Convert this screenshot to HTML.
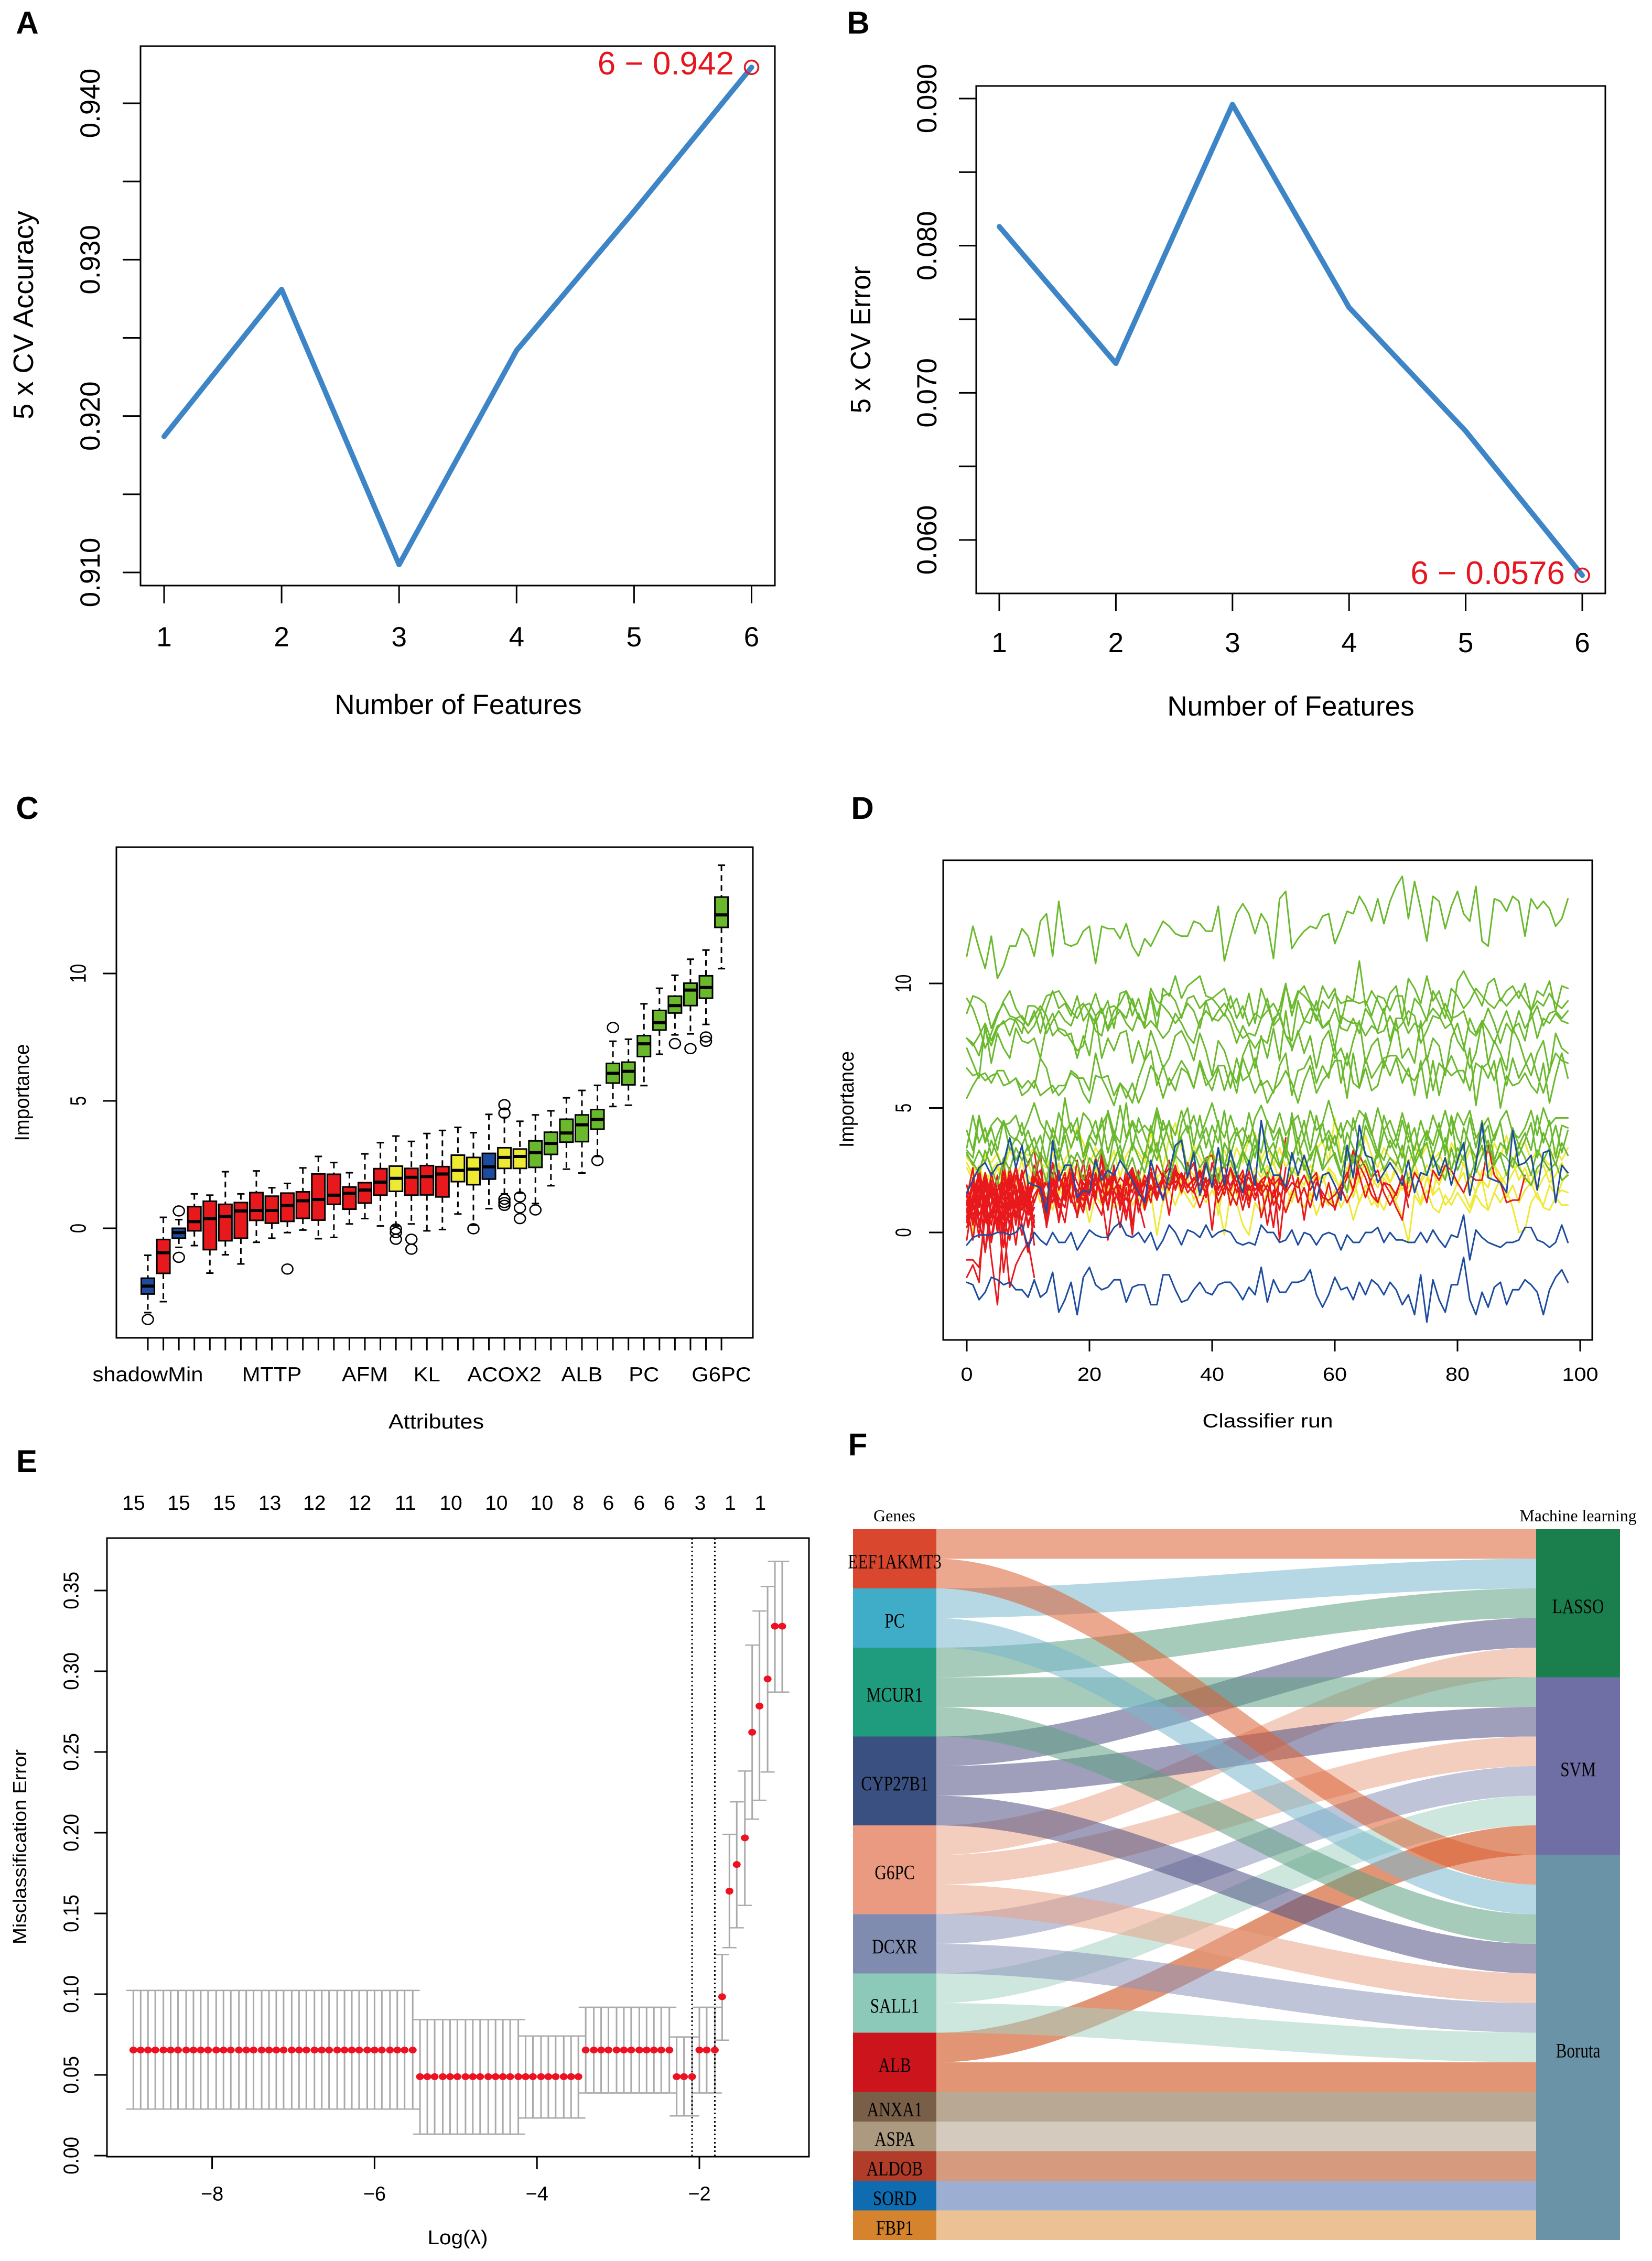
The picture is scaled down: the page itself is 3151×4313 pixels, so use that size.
<!DOCTYPE html>
<html lang="en">
<head>
<meta charset="utf-8">
<title>Feature selection multi-panel figure</title>
<style>
html,body{margin:0;padding:0;background:#fff;}
svg{display:block;}
text{font-family:"Liberation Sans",sans-serif;fill:#000;}
.serif{font-family:"Liberation Serif",serif;}
.letter{font-size:60px;font-weight:bold;text-anchor:middle;}
</style>
</head>
<body>
<svg id="fig" width="3151" height="4313" viewBox="0 0 3151 4313" xmlns="http://www.w3.org/2000/svg">
  <rect x="0" y="0" width="3151" height="4313" fill="#fff"/>

  <g id="panelA">
    <text class="letter" x="52" y="64">A</text>
    <rect x="268" y="88" width="1210" height="1029" fill="none" stroke="#000" stroke-width="3"/>
    <text x="874" y="1362" font-size="53" text-anchor="middle">Number of Features</text>
    <text transform="translate(63,601) rotate(-90)" font-size="54" text-anchor="middle" textLength="398" lengthAdjust="spacingAndGlyphs">5 x CV Accuracy</text>
    <text x="1400" y="142" font-size="62" text-anchor="end" style="fill:#e4161f">6 − 0.942</text>
  </g>

  <g id="panelB">
    <text class="letter" x="1637" y="64">B</text>
    <rect x="1862" y="164" width="1200" height="968" fill="none" stroke="#000" stroke-width="3"/>
    <text x="2462" y="1365" font-size="53" text-anchor="middle">Number of Features</text>
    <text transform="translate(1660,648) rotate(-90)" font-size="54" text-anchor="middle" textLength="281" lengthAdjust="spacingAndGlyphs">5 x CV Error</text>
    <text x="2985" y="1114" font-size="62" text-anchor="end" style="fill:#e4161f">6 − 0.0576</text>
  </g>

  <g id="panelC">
    <text class="letter" x="52" y="1562">C</text>
    <rect x="222" y="1616" width="1214" height="936" fill="none" stroke="#000" stroke-width="3"/>
    <text x="832" y="2725" font-size="39" text-anchor="middle" textLength="182" lengthAdjust="spacingAndGlyphs">Attributes</text>
    <text transform="translate(55,2084) rotate(-90)" font-size="39" text-anchor="middle" textLength="185" lengthAdjust="spacingAndGlyphs">Importance</text>
  </g>

  <g id="panelD">
    <text class="letter" x="1645" y="1562">D</text>
    <rect x="1799" y="1641" width="1238" height="915" fill="none" stroke="#000" stroke-width="3"/>
    <text x="2418" y="2723" font-size="37" text-anchor="middle" textLength="249" lengthAdjust="spacingAndGlyphs">Classifier run</text>
    <text transform="translate(1628,2097) rotate(-90)" font-size="39" text-anchor="middle" textLength="184" lengthAdjust="spacingAndGlyphs">Importance</text>
  </g>

  <g id="panelE">
    <text class="letter" x="51" y="2808">E</text>
    <rect x="204" y="2934" width="1339" height="1180" fill="none" stroke="#000" stroke-width="3"/>
    <text x="873" y="4281" font-size="38" text-anchor="middle" textLength="115" lengthAdjust="spacingAndGlyphs">Log(λ)</text>
    <text transform="translate(50,3523) rotate(-90)" font-size="36" text-anchor="middle" textLength="372" lengthAdjust="spacingAndGlyphs">Misclassification Error</text>
  </g>

  <g id="panelF">
    <text class="letter" x="1636" y="2776">F</text>
    <text class="serif" x="1706" y="2902" font-size="32" text-anchor="middle" textLength="80" lengthAdjust="spacingAndGlyphs">Genes</text>
    <text class="serif" x="3010" y="2902" font-size="32" text-anchor="middle" textLength="223" lengthAdjust="spacingAndGlyphs">Machine learning</text>
  </g>
</svg>

<script>
/* ---------- Panel A / B data ---------- */
const featureCounts = [1, 2, 3, 4, 5, 6];
const accuracyValues = [0.9187, 0.9281, 0.9105, 0.9242, 0.9331, 0.9423];
const errorValues = [0.0813, 0.0720, 0.0896, 0.0758, 0.0674, 0.0576];
const accuracyTicks = [0.910, 0.915, 0.920, 0.925, 0.930, 0.935, 0.940];
const accuracyTickLabels = ['0.910', '', '0.920', '', '0.930', '', '0.940'];
const errorTicks = [0.060, 0.065, 0.070, 0.075, 0.080, 0.085, 0.090];
const errorTickLabels = ['0.060', '', '0.070', '', '0.080', '', '0.090'];

/* ---------- Panel C data (one entry per attribute) ---------- */
const boxCategories = ['shadow','rej','shadow','rej','rej','rej','rej','rej','rej','rej','rej','rej','rej','rej','rej','rej','tent','rej','rej','rej','tent','tent','shadow','tent','tent','conf','conf','conf','conf','conf','conf','conf','conf','conf','conf','conf','conf','conf'];
const boxHigh = [-1.06,0.43,0.34,1.35,1.30,2.22,1.35,2.25,1.59,1.76,2.37,2.82,2.58,2.18,2.92,3.36,3.62,3.41,3.72,3.84,3.96,3.75,4.47,4.35,4.20,4.45,4.61,5.12,5.41,5.61,7.34,7.42,8.81,9.42,9.93,10.56,10.92,14.25];
const boxQ3 = [-1.96,-0.44,0.00,0.85,1.06,0.94,1.01,1.40,1.26,1.38,1.43,2.13,2.12,1.62,1.79,2.34,2.44,2.35,2.46,2.42,2.87,2.78,2.94,3.16,3.11,3.43,3.77,4.28,4.45,4.66,6.47,6.52,7.56,8.55,9.11,9.62,9.91,13.00];
const boxMedian = [-2.27,-0.96,-0.17,0.26,0.38,0.46,0.68,0.70,0.70,0.89,1.08,1.13,1.30,1.37,1.50,1.81,1.96,2.00,2.03,2.13,2.27,2.32,2.41,2.78,2.82,2.97,3.33,3.74,4.06,4.27,6.08,6.16,7.24,8.07,8.74,9.35,9.45,12.30];
const boxQ1 = [-2.58,-1.77,-0.39,-0.10,-0.84,-0.49,-0.39,0.31,0.20,0.27,0.39,0.32,0.94,0.75,0.99,1.30,1.45,1.30,1.31,1.23,1.83,1.71,1.93,2.35,2.35,2.39,2.90,3.38,3.40,3.89,5.70,5.63,6.74,7.78,8.45,8.74,9.03,11.81];
const boxLow = [-3.31,-2.88,-0.75,-0.68,-1.76,-1.04,-1.40,-0.55,-0.39,-0.17,-0.07,-0.41,-0.36,0.17,0.38,0.09,0.09,0.17,-0.10,-0.05,0.56,0.12,0.77,1.35,1.38,0.97,1.67,2.32,2.17,2.82,4.78,4.83,5.60,6.83,7.59,7.63,8.00,10.19];
const boxOutliers = [[-3.58],[],[0.68,-1.14],[],[],[],[],[],[],[-1.60],[],[],[],[],[],[],[-0.03,-0.17,-0.43],[-0.43,-0.82],[],[],[],[-0.02],[],[4.85,4.52,1.14,1.01,0.90],[1.23,0.80,0.38],[0.72],[],[],[],[2.66],[7.88],[],[],[],[7.25],[7.05],[7.51,7.34],[]];
const boxAxisLabels = ['shadowMin','','','','','','','','MTTP','','','','','','AFM','','','','KL','','','','','ACOX2','','','','','ALB','','','','PC','','','','','G6PC'];
const boxYTicks = [0, 5, 10];
const boxYTickLabels = ['0', '5', '10'];

/* ---------- Panel D data (importance by classifier run) ---------- */
const runTicks = [0, 20, 40, 60, 80, 100];
const runTickLabels = ['0', '20', '40', '60', '80', '100'];
const runYTicks = [0, 5, 10];
const runYTickLabels = ['0', '5', '10'];

const redRun1 = [1.9,0.9,2.6,1.2,0.3,1.7,-0.6,1.4,0.6,1.9,0.8,0.5];
const redRun2 = [0.6,2.2,0.3,1.5,-0.4,1.0,2.0,0.2,1.3,0.5,1.7,-0.5];
const redRun3 = [1.2,-0.3,1.5,0.4,1.9,0.0,1.1,2.3,0.7,1.6,0.2,1.3];
const redRun4 = [-0.3,1.4,-0.2,2.0,0.8,1.5,0.1,1.0,1.9,0.3,-0.8,0.7];
const redRun5 = [0.9,1.8,0.5,-0.7,1.2,2.3,0.6,-0.3,1.5,0.9,2.0,0.2];
const redRun6 = [-1.1,-1.1,-1.4,0.6,-0.2,1.3,-1.6,0.4,1.2,-0.1,1.1,0.4];
const redRun7 = [-1.8,-1.3,-2.0,1.2,-1.0,-2.9,0.4,-2.2,-1.3,-0.8,-0.4,-1.8];
const redRun8 = [0.4,1.1,1.9,-0.8,0.9,0.2,2.5,1.1,-0.5,1.4,0.4,1.0];
const redRun9 = [1.4,2.6,0.2,1.8,0.7,2.0,1.0,2.6,1.4,2.2,2.8,3.3,1.6,0.3,2.4,1.2,0.4,2.1,1.5,1.0,2.4,1.5,3.0,0.9,2.2,1.6,0.5,2.3,1.2,0.2];
const redRun10 = [0.2,1.0,2.2,0.5,2.4,1.3,0.8,1.8,2.6,1.1,1.6,2.0,3.2,0.2,1.6,2.5,1.3,2.2,0.6,1.8,1.0,2.3,1.4,-0.3,1.7,1.1,2.6,0.3,1.9,1.3];
const redRun11 = [1.6,0.7,1.3,2.4,1.4,0.4,2.9,0.9,1.2,2.5,1.3,2.7,2.1,0.6,2.3,0.4,1.8,2.7,1.4,0.8,2.1,1.2,0.7,2.2,1.4,0.2,1.8,-0.1,2.4,1.0];
const redRun12 = [1.1,2.0,1.0,2.3,0.6,1.7,2.2,1.2,2.7,1.5,0.9,2.2,2.5,1.0,2.8,1.7,2.4,1.2,2.9,1.6,2.7,1.3,3.2,1.9,2.5,1.1,2.2,2.6,1.7,2.1,1.2,2.7,2.2,2.9,1.7,2.4,1.8,2.2,1.9,3.0,3.1,2.1,1.5,2.6,2.0,0.9,1.9,1.3,2.1,1.7,0.2,2.2,3.8];
const redRun13 = [0.8,1.5,2.4,0.9,1.9,1.2,0.5,2.1,0.3,1.7,1.2,1.9,1.8,0.5,2.0,1.4,1.0,2.4,1.3,2.9,0.9,2.2,1.6,2.7,1.2,1.9,0.8,1.4,2.0,1.0,2.4,1.3,2.1,0.7,2.4,1.8,2.8,1.7,1.0,1.7,2.2,1.2,1.8,2.6,1.6,2.1,1.0,2.3,0.6,1.5,2.3,-0.3,1.9];
const redRun14 = [1.5,0.3,1.2,2.1,1.6,0.8,1.8,0.6,2.3,1.3,1.8,1.2,2.0,1.1,1.7,0.5,2.2,1.4,0.7,2.3,1.6,3.0,1.9,1.0,2.7,0.9,2.2,1.6,2.5,0.9,1.9,1.3,2.4,1.9,2.7,1.6,2.3,2.8,1.5,2.2,0.1,2.3,2.7,1.7,2.4,1.3,2.5,1.5,1.9,0.3,1.7,0.9,2.6];
const redRun15 = [1.3,0.5,1.8,1.0,2.1,0.9,1.6,0.3,1.4,2.0,1.1,2.3,1.5,2.0,1.2,2.2,1.6,2.7,1.2,2.0,1.5,2.4,1.2,1.9,2.3,1.4,2.0,2.5,0.8,1.9,2.6,1.5,2.2,1.7,2.5,2.2,1.6,1.9,2.4,1.4,2.8,1.7,2.3,1.1,2.0,2.5,1.3,2.1,1.7,2.4,1.1,1.6,0.8,1.5,2.2,0.5,2.1,2.4,1.0,2.0,0.9,1.8,1.2,1.7,3.1,2.6,1.9,1.2,2.0,1.6,1.0,0.5,2.2];
const redRun16 = [0.9,1.9,0.7,1.3,2.0,1.1,0.2,1.6,1.0,1.8,0.7,1.5,1.9,1.3,2.2,1.0,1.5,2.1,1.7,1.3,2.0,1.6,2.4,1.5,2.2,1.8,1.3,2.0,1.5,2.3,1.7,2.0,1.4,2.2,1.8,2.4,1.9,1.6,2.3,1.8,2.2,1.5,2.0,1.6,1.1,2.3,1.7,2.1,1.5,1.9,1.4,2.0,1.7,2.4,1.2,1.8,1.0,2.0,1.6,1.2,1.0,1.6,2.2,3.3,2.3,1.4,2.2,2.5,1.6,1.1,1.6,2.2,1.0];
const redRun17 = [0.5,1.4,1.9,0.8,1.6,2.0,1.3,2.2,1.6,0.9,1.4,2.4,1.7,2.1,1.5,2.3,1.8,2.6,2.0,1.5,2.3,1.9,2.5,2.1,1.7,2.2,1.9,2.4,1.6,2.0,2.4,1.8,2.2,2.6,2.0,2.3,1.9,2.1,2.5,2.0,2.3,1.8,2.2,1.9,2.4,2.0,2.2,1.7,2.1,2.3,1.9,2.2,1.6,2.0,1.8,2.3,1.7,2.2,1.4,1.3,1.5,1.9,2.4,1.7,2.7,2.2,1.5,1.2,2.0,1.9,1.5,2.3,1.4,2.4,2.0,1.2,2.5,2.1,2.7,2.5,2.0,1.6,2.3,2.1,2.1,3.5,2.3,2.0,1.2,1.3,1.3,2.3];

const yellowRun1 = [3.0,2.7,2.2,3.1,2.8,3.2,2.5,3.3,2.9,3.2,3.1,3.4,2.8,2.6,3.2,2.3,2.9,3.4,4.2,3.6,2.7,3.4,3.0,2.6,3.3,2.2,3.1,3.5,3.2,2.8,4.0,3.2,2.6,3.8,4.4,3.4,2.7,3.5,3.0,2.5,3.2,2.9,3.3,2.6,3.4,2.8,3.8,4.0,2.9,3.5,2.7,3.4,2.6,3.1,3.6,2.9,2.2,3.3,3.7,2.8,4.6,3.0,2.5,3.3,2.7,3.9,3.1,2.6,3.4,3.0,2.8,3.3,2.7,3.5,3.0,3.5,2.9,3.2,2.5,3.6,3.1,2.7,3.3,2.9,3.4,2.6,3.6,3.0,3.9,2.8,3.5,3.6,2.9,3.3,3.0,2.7,3.4,2.9,3.4];
const yellowRun2 = [2.8,2.3,1.5,2.4,2.0,2.6,1.8,2.5,2.1,2.9,1.9,2.4,2.0,1.3,2.3,2.8,1.9,2.4,2.7,2.2,1.7,2.6,1.3,2.3,1.8,1.4,2.4,1.9,1.5,2.5,2.9,2.2,1.7,2.5,3.0,2.0,2.6,2.3,1.8,2.7,2.1,2.6,1.9,2.4,1.5,2.3,1.8,2.6,2.2,2.7,2.0,2.4,1.8,2.6,2.2,1.9,2.7,2.3,2.0,2.6,2.3,1.6,2.5,2.9,2.0,2.5,2.2,1.8,2.4,2.0,2.7,2.3,1.8,2.5,2.1,2.7,2.4,1.9,2.6,2.3,1.9,2.8,2.1,1.6,2.5,2.2,2.7,1.9,2.4,2.9,2.1,2.6,1.9,2.4,2.7,2.0,2.3,2.8,2.3];
const yellowRun3 = [1.8,1.3,2.0,1.6,2.2,1.7,2.4,1.9,2.1,1.5,2.3,1.8,2.0,0.7,2.1,1.5,2.3,1.8,2.5,1.2,1.9,1.4,2.2,1.7,2.4,1.2,2.0,1.6,2.3,1.0,1.8,2.3,1.2,1.9,2.4,1.6,2.2,1.3,2.0,1.7,2.3,0.7,2.1,1.5,2.4,1.8,1.2,2.2,1.6,2.0,1.4,2.3,1.9,1.2,2.1,1.7,1.3,2.0,2.3,1.5,1.0,2.1,1.6,2.3,1.2,1.9,1.5,1.0,2.2,1.8,1.3,2.0,1.6,1.9,1.2,2.2,1.5,1.8,1.1,1.4,2.0,1.6,1.0,1.7,2.1,0.9,1.6,2.2,1.4,1.9,1.2,1.7,2.0,1.4,1.1,1.9,1.5,1.7,1.6];
const yellowRun4 = [1.0,0.0,1.7,1.1,0.4,1.4,1.9,1.3,1.7,1.0,1.5,2.0,1.2,1.6,0.9,1.8,1.3,1.6,1.0,1.5,0.4,1.5,1.1,1.7,1.0,1.3,1.8,1.1,1.5,0.9,1.6,-0.1,1.3,1.7,1.1,1.8,1.4,1.0,1.6,1.2,1.7,1.2,-0.1,1.6,1.2,0.3,-0.1,1.2,0.8,1.7,1.2,1.5,0.9,1.7,1.3,1.0,1.6,0.7,1.4,1.1,1.7,1.0,1.5,0.5,1.3,1.7,1.1,1.4,0.9,1.6,1.2,0.6,-0.4,1.5,1.1,1.7,1.0,0.8,1.5,1.1,1.6,1.2,0.8,1.5,1.1,0.9,1.6,1.2,1.7,1.0,0.0,0.1,1.2,1.6,1.0,0.9,1.4,1.1,1.1];
const yellowRun5 = [2.6,2.1,2.7,1.9,2.5,2.8,2.0,2.6,1.7,2.3,2.8,2.1,1.7,2.4,1.9,2.7,2.2,2.8,2.4,1.8,2.3,2.7,2.0,1.6,2.4,2.0,1.3,2.6,1.9,2.3,1.6,2.2,2.5,1.8,2.3,1.5,2.4,2.0,2.7,2.1,1.8,2.4,1.7,2.6,2.0,2.4,1.5,2.3,1.9,2.5,2.8,2.1,1.6,2.6,2.2,2.9,1.7,2.4,2.0,2.5,2.1,1.8,2.6,1.4,2.3,2.8,1.8,2.3,2.7,2.0,2.5,1.7,2.3,2.8,2.0,2.4,1.6,2.7,2.2,2.5,2.0,2.4,1.5,2.6,2.1,1.8,2.7,2.3,1.9,2.4,2.8,2.0,2.4,1.7,2.2,2.6,1.3,2.0,2.4];

const greenRunTop = [11.1,12.3,11.4,10.6,11.9,10.2,10.7,11.5,11.5,12.2,11.9,11.1,12.5,12.8,11.1,13.3,11.6,11.5,11.6,12.1,12.3,10.8,12.3,12.2,12.2,11.8,12.4,11.5,11.1,11.8,11.5,12.0,12.5,12.3,12.0,11.9,11.9,12.5,12.4,12.1,12.1,13.1,10.9,11.9,12.8,13.2,12.8,12.0,12.8,12.4,11.0,13.4,13.7,11.4,11.8,12.1,12.3,12.2,12.7,12.8,11.6,12.2,12.9,12.8,13.5,13.1,12.5,13.4,12.4,13.3,13.9,14.3,12.6,14.1,13.0,11.7,13.5,13.3,12.2,13.1,13.7,12.8,12.5,13.9,11.7,11.5,13.4,13.3,12.9,13.5,13.3,11.9,13.4,13.0,13.3,13.0,12.3,12.6,13.4];
const greenRunA = [9.4,9.0,8.3,7.4,8.0,8.7,9.3,9.7,9.0,8.6,8.3,8.9,8.0,9.0,9.7,9.0,9.2,8.7,9.5,8.5,8.9,9.6,8.8,9.3,8.2,9.6,9.7,8.7,9.4,8.6,9.5,8.2,9.8,9.5,10.3,9.4,9.9,10.1,10.3,9.5,9.4,9.6,9.8,9.0,9.4,8.6,9.6,8.4,9.8,9.1,8.4,9.0,10.0,8.7,9.6,9.9,9.3,8.9,9.9,9.4,9.8,8.4,9.5,9.3,10.9,9.1,9.7,9.3,8.8,9.6,9.9,8.6,10.2,9.8,9.2,10.3,9.3,9.7,8.9,8.4,10.1,10.5,10.0,9.6,9.1,10.0,10.2,9.3,9.7,9.9,9.4,10.0,8.9,9.7,9.5,10.1,8.9,9.9,9.8];
const greenRunB = [8.8,9.5,9.4,9.2,8.2,8.8,9.2,8.7,8.6,8.4,8.0,8.3,8.9,9.5,9.6,9.7,9.3,8.9,8.6,9.1,9.2,8.7,9.0,8.2,8.9,9.2,9.7,9.2,8.7,8.3,9.6,8.7,9.5,9.6,9.3,8.6,9.4,9.5,9.0,9.3,9.4,9.1,8.7,9.5,8.6,9.1,8.3,8.8,8.6,9.4,8.3,8.6,9.9,9.0,9.7,9.5,9.2,8.5,9.3,9.0,9.6,9.2,9.3,9.3,9.2,9.3,8.7,9.5,9.4,8.9,9.5,9.5,8.3,9.4,9.1,8.5,9.7,9.2,8.6,9.8,9.5,9.0,9.3,9.8,9.5,9.2,9.0,9.4,9.1,9.4,9.7,9.3,8.9,9.3,9.1,9.6,9.2,9.0,9.3];
const greenRunC = [7.8,7.5,7.9,8.4,7.7,8.3,8.4,8.6,8.5,8.0,9.1,9.1,8.9,8.0,8.5,8.9,8.5,8.3,9.0,9.2,8.8,8.4,9.0,8.1,8.6,8.9,8.4,8.1,8.8,8.2,8.5,8.2,7.8,8.1,8.8,8.4,7.9,7.6,8.5,8.9,8.6,8.5,8.8,8.4,7.6,8.3,7.8,7.4,7.8,7.6,8.6,8.8,7.9,7.7,9.3,8.5,8.4,9.3,8.2,8.5,7.4,8.7,8.5,8.4,8.4,7.9,8.3,8.1,9.0,7.7,8.6,8.6,8.0,8.4,8.2,8.6,9.0,8.7,8.2,8.4,7.7,7.3,8.6,8.0,8.5,8.1,7.6,8.3,8.9,8.2,8.4,7.7,8.9,7.8,8.6,8.4,8.8,8.5,8.4];
const greenRunD = [7.4,6.8,6.2,8.3,6.8,8.0,7.4,7.0,8.2,7.7,7.6,7.8,7.0,8.3,8.8,8.1,7.9,8.0,7.0,7.9,7.1,8.7,7.0,7.8,7.3,8.0,8.1,6.8,7.7,6.9,8.1,7.4,6.6,7.0,7.9,8.1,7.6,6.9,8.0,7.3,6.3,7.7,7.3,6.5,6.0,7.1,7.7,6.6,7.9,7.0,8.2,6.9,8.9,7.3,8.1,7.2,7.9,6.6,7.7,8.1,7.0,7.4,6.7,7.7,8.5,6.8,7.5,7.8,6.6,7.5,8.5,7.0,7.4,6.8,8.5,6.9,7.8,7.5,6.3,7.8,8.4,7.5,6.6,7.2,8.5,6.8,7.7,7.2,6.5,8.2,7.7,6.9,6.3,7.2,7.7,6.4,8.0,7.4,7.2];
const greenRunE = [6.6,6.3,6.4,6.1,6.3,6.4,5.9,6.0,6.2,5.8,6.1,5.8,7.0,6.6,5.6,5.9,5.9,6.4,6.2,6.2,5.7,7.2,6.2,6.3,5.5,6.0,5.7,5.2,6.2,6.9,7.3,5.9,6.7,5.9,6.4,6.9,6.5,5.8,6.8,5.9,6.2,6.7,6.7,5.8,7.0,6.1,6.3,7.0,5.9,6.1,5.6,6.7,7.2,5.5,6.5,6.6,7.1,6.0,6.7,6.2,7.5,6.0,7.2,6.0,5.8,7.0,6.2,6.6,7.0,7.1,7.1,6.7,6.3,6.1,6.6,7.1,5.7,6.8,6.5,7.1,6.5,6.5,5.7,6.8,6.6,6.8,6.1,7.0,5.9,7.0,6.2,6.7,7.2,6.3,5.6,6.5,7.2,6.9,6.8];
const greenRunF = [5.4,5.9,6.3,6.4,6.0,6.5,6.5,6.0,6.2,5.5,5.7,6.1,5.5,5.7,5.9,5.5,5.8,6.5,6.3,5.6,5.2,6.3,6.2,5.7,5.1,6.0,5.4,6.0,5.2,5.8,6.7,6.3,5.4,6.2,5.7,6.6,6.4,5.8,6.9,6.2,5.7,6.6,5.7,6.5,5.6,7.0,6.3,5.6,6.1,5.2,5.7,6.0,6.5,6.0,5.2,6.1,6.7,5.6,6.1,6.4,6.9,6.9,5.4,7.2,5.8,6.6,5.7,5.9,6.9,6.3,7.0,6.0,6.6,5.5,6.9,5.4,6.9,5.5,6.6,6.3,6.5,6.0,7.4,5.1,6.7,6.2,6.9,5.0,6.3,5.9,6.0,6.4,5.9,5.6,6.8,5.2,6.3,7.2,6.2];
const greenRunG = [7.8,7.6,7.1,8.1,7.5,8.2,8.5,7.9,8.6,8.7,8.3,8.7,9.1,8.7,7.9,8.2,8.1,7.7,7.3,7.5,8.8,8.1,7.9,9.0,9.1,8.9,8.6,9.4,8.6,8.4,9.8,9.3,9.1,8.8,8.4,8.7,9.2,8.9,8.2,9.3,8.5,8.9,9.2,8.8,8.2,7.8,8.0,7.9,8.6,8.9,9.2,8.7,7.9,7.4,8.0,8.5,9.0,8.7,8.2,8.4,9.0,8.2,8.1,8.6,8.0,9.0,8.6,8.0,8.1,8.7,8.1,8.4,8.9,8.7,7.6,8.1,8.7,8.6,9.2,8.6,8.7,8.9,8.1,7.9,8.3,9.0,8.4,7.6,8.4,8.0,8.9,8.2,8.6,9.1,8.3,8.8,8.9,8.6,8.9];
const greenRunH = [4.1,3.3,4.7,3.7,4.3,4.6,4.3,4.4,4.7,3.9,4.5,5.2,4.4,4.0,3.5,4.8,4.0,4.4,3.7,4.8,4.5,3.8,4.3,4.8,3.7,5.1,3.8,4.5,4.0,4.3,4.0,5.0,4.1,4.4,3.9,4.9,4.0,4.7,3.8,4.5,5.2,4.3,3.8,4.7,3.9,4.2,3.6,4.6,5.1,4.4,4.0,4.8,3.9,4.4,4.7,3.8,4.9,4.1,4.4,5.3,4.4,3.8,4.5,4.1,4.9,4.6,3.9,5.0,4.1,4.5,3.8,4.8,3.9,3.3,4.5,3.7,4.7,4.0,4.9,3.9,4.8,4.3,4.9,3.8,4.2,4.6,3.7,4.5,4.9,4.0,3.8,4.2,4.9,3.9,5.0,4.3,4.6,4.6,4.6];
const greenRunI = [3.4,4.7,3.6,4.2,3.1,3.9,4.5,3.3,3.8,3.5,4.1,3.3,3.9,2.8,4.2,3.5,5.4,4.0,4.6,3.0,3.8,4.5,3.4,4.9,4.0,3.6,5.2,3.3,4.6,3.9,3.2,4.8,3.6,4.5,3.0,4.4,5.0,3.5,4.7,3.4,4.3,3.6,4.9,3.1,4.0,3.5,4.8,3.8,3.2,4.5,3.7,4.2,3.0,4.8,3.6,4.5,3.3,4.7,3.6,4.1,3.5,4.4,2.9,4.6,3.5,4.8,4.0,3.2,4.7,3.9,3.4,4.5,3.6,4.2,3.0,4.0,3.5,4.4,3.1,4.7,3.8,3.3,4.6,3.4,4.5,3.2,3.9,4.4,3.1,4.2,3.5,4.0,3.3,4.7,3.6,4.5,3.0,4.3,4.2];
const greenRunJ = [3.3,3.0,4.6,3.6,4.2,3.3,4.5,3.9,3.7,4.4,3.3,3.8,3.0,4.5,3.9,2.9,4.2,3.4,4.1,3.1,3.9,3.5,4.6,3.2,4.1,2.9,3.7,4.4,3.6,3.0,4.3,3.2,4.5,3.7,3.1,3.9,4.3,3.0,3.6,4.2,3.3,4.5,2.6,3.7,4.2,3.3,3.9,3.0,4.4,3.5,3.0,4.1,3.4,4.5,3.1,3.8,2.9,3.6,4.4,3.3,3.9,2.8,4.0,3.4,2.9,4.3,3.7,3.0,4.1,3.4,3.8,3.0,4.4,2.9,3.6,4.1,3.1,4.0,3.4,4.6,2.8,4.2,3.5,3.0,3.8,4.3,2.9,3.6,3.3,4.0,3.1,3.7,4.4,3.0,4.0,3.4,4.3,3.2,4.1];
const greenRunK = [3.2,2.7,3.3,2.8,3.7,3.1,2.5,3.8,2.9,3.4,2.7,3.3,2.9,2.0,3.5,3.0,3.9,2.6,3.2,2.7,3.6,3.0,3.4,2.5,3.9,3.1,2.6,3.6,3.0,2.4,3.5,2.9,3.7,2.6,3.2,3.8,2.5,3.0,3.5,2.7,3.4,2.0,3.6,3.1,2.6,3.3,2.8,3.9,2.4,3.2,3.6,2.7,3.4,2.9,3.8,2.5,3.1,3.5,2.6,3.9,3.0,2.3,3.4,2.8,3.6,3.2,2.5,3.3,2.9,3.7,3.1,2.4,3.5,2.7,3.3,3.6,2.6,3.0,3.8,2.5,3.4,2.9,3.6,2.4,3.1,3.7,2.7,3.2,3.0,2.6,3.5,3.0,2.3,3.3,2.9,3.4,2.7,3.6,3.1];
const greenRunL = [3.1,2.8,2.4,3.3,2.6,1.9,3.0,2.5,3.4,2.9,3.5,2.3,3.2,2.7,2.2,3.4,2.5,3.1,2.8,2.1,3.0,2.6,3.3,2.2,2.9,3.5,2.4,3.0,2.1,3.2,2.7,3.6,2.5,2.0,3.1,2.8,2.3,3.3,2.6,3.0,2.1,3.4,2.6,2.9,2.2,3.2,2.5,3.5,2.8,2.2,3.1,2.6,3.3,2.3,3.0,2.7,2.1,3.4,2.5,2.9,3.2,2.4,1.6,3.1,2.6,2.9,2.2,3.3,2.5,3.0,2.7,3.5,2.0,2.8,3.2,2.3,3.0,2.6,2.1,3.4,2.5,3.1,2.2,2.9,3.5,2.4,2.8,3.1,2.3,3.0,2.6,2.2,1.9,2.6,2.9,2.5,2.8,2.1,2.3];

const blueRunMax = [1.6,2.1,2.6,2.8,2.3,2.7,2.8,3.8,2.6,3.5,2.0,1.9,1.8,0.8,3.7,2.1,2.7,2.7,1.4,1.7,1.6,2.9,2.1,2.5,2.3,2.9,2.5,2.1,1.6,1.2,2.9,2.0,1.3,2.4,3.5,3.7,2.2,3.2,1.5,2.8,1.8,3.4,1.9,3.3,2.3,1.6,2.9,1.9,4.5,3.0,2.3,2.3,1.8,3.2,2.3,3.1,2.3,1.3,2.3,2.4,1.9,1.3,3.5,2.2,4.3,3.1,3.0,2.0,2.4,2.8,2.4,1.9,2.9,1.6,2.4,2.3,3.1,2.3,3.0,1.9,2.9,3.6,1.5,2.7,4.4,2.2,2.1,2.0,1.6,4.1,2.7,2.8,3.1,1.7,3.2,3.3,1.2,2.7,2.4];
const blueRunMean = [-0.5,-0.2,-0.1,-0.1,-0.1,0.0,0.0,-0.1,0.0,0.3,-0.6,0.0,-0.3,-0.5,0.0,-0.4,-0.4,0.0,-0.7,-0.3,0.1,-0.1,-0.2,-0.2,0.2,0.4,-0.1,-0.2,0.0,-0.4,0.0,-0.7,-0.3,0.3,0.0,-0.5,0.1,0.0,-0.2,0.3,-0.2,0.0,0.1,0.0,-0.4,-0.5,-0.4,-0.5,0.3,0.0,0.0,-0.4,-0.3,0.1,-0.5,0.0,-0.1,-0.5,-0.1,0.0,-0.1,-0.7,-0.1,-0.4,-0.4,0.0,0.0,0.2,-0.4,0.0,-0.3,-0.3,-0.4,-0.4,0.0,-0.4,0.1,-0.3,-0.6,-0.1,-0.2,0.7,-1.1,0.1,-0.2,-0.4,-0.5,-0.6,-0.4,-0.4,-0.3,0.2,0.2,-0.3,-0.4,-0.6,-0.4,0.3,-0.4];
const blueRunMin = [-2.0,-2.1,-2.7,-2.4,-1.8,-1.9,-2.1,-2.0,-2.3,-2.3,-2.6,-1.9,-2.6,-2.4,-1.6,-3.2,-2.7,-2.0,-3.3,-1.8,-1.4,-2.1,-2.3,-2.2,-1.9,-1.9,-2.8,-2.2,-2.1,-2.1,-2.9,-2.9,-1.7,-1.7,-2.3,-2.8,-2.7,-2.3,-2.0,-2.4,-2.5,-2.1,-2.0,-2.0,-2.3,-2.7,-2.2,-2.5,-1.4,-2.8,-1.9,-2.4,-2.4,-2.0,-2.0,-1.9,-1.5,-2.5,-3.0,-2.5,-1.8,-2.3,-2.2,-2.7,-2.0,-2.5,-1.9,-2.1,-2.5,-2.0,-2.3,-2.9,-2.5,-3.3,-1.7,-3.6,-1.9,-2.7,-3.2,-2.1,-2.1,-1.0,-2.7,-3.3,-2.4,-3.0,-2.2,-2.0,-2.9,-2.3,-2.3,-1.9,-2.1,-2.4,-3.3,-2.3,-1.8,-1.5,-2.0];

const redSeries = [redRun1,redRun2,redRun3,redRun4,redRun5,redRun6,redRun7,redRun8,redRun9,redRun10,redRun11,redRun12,redRun13,redRun14,redRun15,redRun16,redRun17];
const yellowSeries = [yellowRun1,yellowRun2,yellowRun3,yellowRun4,yellowRun5];
const greenSeries = [greenRunTop,greenRunA,greenRunB,greenRunC,greenRunD,greenRunE,greenRunF,greenRunG,greenRunH,greenRunI,greenRunJ,greenRunK,greenRunL];
const blueSeries = [blueRunMin,blueRunMean,blueRunMax];

/* ---------- Panel E data (cv.glmnet misclassification) ---------- */
const logLambda = [-8.97,-8.88,-8.79,-8.70,-8.60,-8.51,-8.42,-8.32,-8.23,-8.14,-8.05,-7.95,-7.86,-7.77,-7.67,-7.58,-7.49,-7.39,-7.30,-7.21,-7.12,-7.02,-6.93,-6.84,-6.74,-6.65,-6.56,-6.46,-6.37,-6.28,-6.19,-6.09,-6.00,-5.91,-5.81,-5.72,-5.63,-5.53,-5.44,-5.35,-5.26,-5.16,-5.07,-4.98,-4.88,-4.79,-4.70,-4.60,-4.51,-4.42,-4.33,-4.23,-4.14,-4.05,-3.95,-3.86,-3.77,-3.67,-3.58,-3.49,-3.40,-3.30,-3.21,-3.12,-3.02,-2.93,-2.84,-2.74,-2.65,-2.56,-2.47,-2.37,-2.28,-2.19,-2.09,-2.00,-1.91,-1.81,-1.72,-1.63,-1.54,-1.44,-1.35,-1.26,-1.16,-1.07,-0.98];
const cvMean = [.0654,.0654,.0654,.0654,.0654,.0654,.0654,.0654,.0654,.0654,.0654,.0654,.0654,.0654,.0654,.0654,.0654,.0654,.0654,.0654,.0654,.0654,.0654,.0654,.0654,.0654,.0654,.0654,.0654,.0654,.0654,.0654,.0654,.0654,.0654,.0654,.0654,.0654,.0489,.0489,.0489,.0489,.0489,.0489,.0489,.0489,.0489,.0489,.0489,.0489,.0489,.0489,.0489,.0489,.0489,.0489,.0489,.0489,.0489,.0489,.0654,.0654,.0654,.0654,.0654,.0654,.0654,.0654,.0654,.0654,.0654,.0654,.0489,.0489,.0489,.0654,.0654,.0654,.0984,.1638,.1803,.1968,.2622,.2784,.2952,.3279,.3279];
const cvHigh = [.1023,.1023,.1023,.1023,.1023,.1023,.1023,.1023,.1023,.1023,.1023,.1023,.1023,.1023,.1023,.1023,.1023,.1023,.1023,.1023,.1023,.1023,.1023,.1023,.1023,.1023,.1023,.1023,.1023,.1023,.1023,.1023,.1023,.1023,.1023,.1023,.1023,.1023,.0842,.0842,.0842,.0842,.0842,.0842,.0842,.0842,.0842,.0842,.0842,.0842,.0842,.0842,.0741,.0741,.0741,.0741,.0741,.0741,.0741,.0741,.0919,.0919,.0919,.0919,.0919,.0919,.0919,.0919,.0919,.0919,.0919,.0919,.0735,.0735,.0735,.0919,.0919,.0919,.1246,.1990,.2191,.2382,.3162,.3373,.3525,.3680,.3680];
const cvLow = [.0288,.0288,.0288,.0288,.0288,.0288,.0288,.0288,.0288,.0288,.0288,.0288,.0288,.0288,.0288,.0288,.0288,.0288,.0288,.0288,.0288,.0288,.0288,.0288,.0288,.0288,.0288,.0288,.0288,.0288,.0288,.0288,.0288,.0288,.0288,.0288,.0288,.0288,.0133,.0133,.0133,.0133,.0133,.0133,.0133,.0133,.0133,.0133,.0133,.0133,.0133,.0133,.0233,.0233,.0233,.0233,.0233,.0233,.0233,.0233,.0388,.0388,.0388,.0388,.0388,.0388,.0388,.0388,.0388,.0388,.0388,.0388,.0246,.0246,.0246,.0388,.0388,.0388,.0715,.1288,.1411,.1550,.2084,.2201,.2376,.2871,.2871];
const lambdaTicks = [-8, -6, -4, -2];
const lambdaTickLabels = ['−8', '−6', '−4', '−2'];
const errYTicks = [0, 0.05, 0.10, 0.15, 0.20, 0.25, 0.30, 0.35];
const errYTickLabels = ['0.00', '0.05', '0.10', '0.15', '0.20', '0.25', '0.30', '0.35'];
const topCountAt = [-8.966,-8.41,-7.85,-7.29,-6.74,-6.18,-5.62,-5.06,-4.5,-3.94,-3.49,-3.12,-2.74,-2.37,-1.99,-1.62,-1.25];
const topCountLabels = ['15','15','15','13','12','12','11','10','10','10','8','6','6','6','3','1','1'];
const selectedLambdas = [-2.09, -1.81];

/* ---------- Panel F data (Sankey membership) ---------- */
const geneNames = ['EEF1AKMT3','PC','MCUR1','CYP27B1','G6PC','DCXR','SALL1','ALB','ANXA1','ASPA','ALDOB','SORD','FBP1'];
const geneColors = ['#d9472f','#3fadc8','#1f9b7e','#3a5080','#ea9a80','#7f8cb0','#8dc9b8','#cc141c','#7a5f48','#ab9980','#b03c29','#0f6cb0','#d5832c'];
const flowColors = ['#db6133','#78b8ce','#5fa083','#505083','#e9a487','#8c94ba','#a4d1c3','#ca3e04','#80633c','#b19f87','#b44714','#4b6ead','#dc8e3b'];
const methodNames = ['LASSO','SVM','Boruta'];
const methodColors = ['#1b7f4d','#6f6fa6','#6b93a7'];
const lassoGenes = ['EEF1AKMT3','PC','MCUR1','CYP27B1','G6PC'];
const svmGenes = ['MCUR1','CYP27B1','G6PC','DCXR','SALL1','ALB'];
const borutaGenes = ['EEF1AKMT3','PC','MCUR1','CYP27B1','G6PC','DCXR','SALL1','ALB','ANXA1','ASPA','ALDOB','SORD','FBP1'];
const methodGenes = [lassoGenes, svmGenes, borutaGenes];

/* ---------- helpers ---------- */
const NS = 'http://www.w3.org/2000/svg';
function add(parent, tag, name, attrs) {
  const el = document.createElementNS(NS, tag);
  for (const k in attrs) el.setAttribute(k, attrs[k]);
  
  
  parent.appendChild(el);
  return el;
}
function label(parent, name, str, x, y, size, rot, stretch, serif) {
  const sx = stretch || 1;
  const base = rot ? 'translate(' + (x + 0.358 * size) + ',' + y + ') rotate(-90)' : 'translate(' + x + ',' + (y + 0.358 * size) + ')';
  const el = add(parent, 'text', name, {
    transform: base + ' scale(' + sx + ',1)',
    'font-size': size,
    'text-anchor': 'middle'
  });
  if (serif) el.setAttribute('class', 'serif');
  el.textContent = str;
  return el;
}
function seg(parent, name, x1, y1, x2, y2, color, w, dash) {
  const el = add(parent, 'line', name, {x1: x1, y1: y1, x2: x2, y2: y2, stroke: color, 'stroke-width': w});
  if (dash) el.setAttribute('stroke-dasharray', dash);
  return el;
}
function polyline(parent, name, xs, ys, color, w) {
  const pts = xs.map(function (x, i) { return x.toFixed(1) + ',' + ys[i].toFixed(1); }).join(' ');
  return add(parent, 'polyline', name, {points: pts, fill: 'none', stroke: color, 'stroke-width': w, 'stroke-linejoin': 'round', 'stroke-linecap': 'round'});
}
const gA = document.getElementById('panelA');
const gB = document.getElementById('panelB');
const gC = document.getElementById('panelC');
const gD = document.getElementById('panelD');
const gE = document.getElementById('panelE');
const gF = document.getElementById('panelF');

/* ---------- Panel A ---------- */
const xA = function (v) { return 313 + (v - 1) * 224.1; };
const yA = function (v) { return 1092 - (v - 0.91) * 29833; };
featureCounts.forEach(function (v) {
  seg(gA, 'x-tick-a', xA(v), 1117, xA(v), 1151, '#000', 3);
  label(gA, 'x-tick-label-a', String(v), xA(v), 1214, 53);
});
accuracyTicks.forEach(function (v, i) {
  seg(gA, 'y-tick-a', 234, yA(v), 268, yA(v), '#000', 3);
  if (accuracyTickLabels[i]) label(gA, 'y-tick-label-a', accuracyTickLabels[i], 171, yA(v), 53, true);
});
polyline(gA, 'accuracy-line', featureCounts.map(xA), accuracyValues.map(yA), '#3d85c6', 10);
add(gA, 'circle', 'best-point-marker-a', {cx: xA(6), cy: yA(accuracyValues[5]), r: 13, fill: 'none', stroke: '#e4161f', 'stroke-width': 3.5});

/* ---------- Panel B ---------- */
const xB = function (v) { return 1906 + (v - 1) * 222.4; };
const yB = function (v) { return 1030 - (v - 0.06) * 28067; };
featureCounts.forEach(function (v) {
  seg(gB, 'x-tick-b', xB(v), 1132, xB(v), 1166, '#000', 3);
  label(gB, 'x-tick-label-b', String(v), xB(v), 1225, 53);
});
errorTicks.forEach(function (v, i) {
  seg(gB, 'y-tick-b', 1829, yB(v), 1862, yB(v), '#000', 3);
  if (errorTickLabels[i]) label(gB, 'y-tick-label-b', errorTickLabels[i], 1767, yB(v), 53, true);
});
polyline(gB, 'error-line', featureCounts.map(xB), errorValues.map(yB), '#3d85c6', 10);
add(gB, 'circle', 'best-point-marker-b', {cx: xB(6), cy: yB(errorValues[5]), r: 13, fill: 'none', stroke: '#e4161f', 'stroke-width': 3.5});

/* ---------- Panel C ---------- */
const xC = function (i) { return 282 + i * 29.57; };
const yC = function (v) { return 2343 - v * 48.6; };
const catFill = {shadow: '#1d4c9f', rej: '#e8191c', tent: '#eee933', conf: '#6ab92d'};
boxYTicks.forEach(function (v, i) {
  seg(gC, 'y-tick-c', 196, yC(v), 222, yC(v), '#000', 3);
  label(gC, 'y-tick-label-c', boxYTickLabels[i], 148, yC(v), 43, true, 0.76);
});
boxMedian.forEach(function (m, i) {
  const x = xC(i);
  seg(gC, 'x-tick-c', x, 2552, x, 2576, '#000', 3);
  if (boxAxisLabels[i]) label(gC, 'x-tick-label-c', boxAxisLabels[i], x, 2621, 39, false, 1.07);
  seg(gC, 'box-whisker-upper', x, yC(boxHigh[i]), x, yC(boxQ3[i]), '#000', 3, '11 8');
  seg(gC, 'box-whisker-lower', x, yC(boxQ1[i]), x, yC(boxLow[i]), '#000', 3, '11 8');
  seg(gC, 'box-cap-upper', x - 7, yC(boxHigh[i]), x + 7, yC(boxHigh[i]), '#000', 3);
  seg(gC, 'box-cap-lower', x - 7, yC(boxLow[i]), x + 7, yC(boxLow[i]), '#000', 3);
  add(gC, 'rect', 'box-' + boxCategories[i], {x: x - 12.5, y: yC(boxQ3[i]), width: 25, height: yC(boxQ1[i]) - yC(boxQ3[i]), fill: catFill[boxCategories[i]], stroke: '#000', 'stroke-width': 3});
  seg(gC, 'box-median', x - 12.5, yC(m), x + 12.5, yC(m), '#000', 6);
  boxOutliers[i].forEach(function (o) {
    add(gC, 'ellipse', 'box-outlier', {cx: x, cy: yC(o), rx: 10.5, ry: 9.5, fill: 'none', stroke: '#000', 'stroke-width': 2.6});
  });
});

/* ---------- Panel D ---------- */
const xD = function (v) { return 1844 + v * 11.7; };
const yD = function (v) { return 2351 - v * 47.5; };
runTicks.forEach(function (v, i) {
  seg(gD, 'x-tick-d', xD(v), 2556, xD(v), 2578, '#000', 3);
  label(gD, 'x-tick-label-d', runTickLabels[i], xD(v), 2621, 36, false, 1.15);
});
runYTicks.forEach(function (v, i) {
  seg(gD, 'y-tick-d', 1772, yD(v), 1799, yD(v), '#000', 3);
  label(gD, 'y-tick-label-d', runYTickLabels[i], 1722, yD(v), 43, true, 0.72);
});
function drawRuns(seriesList, color, name, w) {
  seriesList.forEach(function (vals) {
    polyline(gD, name, vals.map(function (_, i) { return xD(i); }), vals.map(yD), color, w);
  });
}
drawRuns(yellowSeries, '#eee933', 'tentative-attribute-line', 3);
drawRuns(redSeries, '#e8191c', 'rejected-attribute-line', 3);
drawRuns(greenSeries, '#6ab92d', 'confirmed-attribute-line', 3);
drawRuns(blueSeries, '#1d4c9f', 'shadow-attribute-line', 3);

/* ---------- Panel E ---------- */
const xE = function (v) { return 404.6 + (v + 8) * 154.9; };
const yE = function (v) { return 4112 - v * 3080; };
lambdaTicks.forEach(function (v, i) {
  seg(gE, 'x-tick-e', xE(v), 4114, xE(v), 4138, '#000', 3);
  label(gE, 'x-tick-label-e', lambdaTickLabels[i], xE(v), 4184, 38);
});
errYTicks.forEach(function (v, i) {
  seg(gE, 'y-tick-e', 180, yE(v), 204, yE(v), '#000', 3);
  label(gE, 'y-tick-label-e', errYTickLabels[i], 135, yE(v), 41, true, 0.9);
});
topCountAt.forEach(function (v, i) {
  label(gE, 'nonzero-count-label', topCountLabels[i], xE(v), 2866, 39);
});
logLambda.forEach(function (l, i) {
  const x = xE(l);
  seg(gE, 'error-bar', x, yE(cvHigh[i]), x, yE(cvLow[i]), '#aaaaaa', 3);
  seg(gE, 'error-bar-cap-high', x - 13.4, yE(cvHigh[i]), x + 13.4, yE(cvHigh[i]), '#aaaaaa', 2.5);
  seg(gE, 'error-bar-cap-low', x - 13.4, yE(cvLow[i]), x + 13.4, yE(cvLow[i]), '#aaaaaa', 2.5);
});
selectedLambdas.forEach(function (l) {
  seg(gE, 'selected-lambda-line', xE(l), 2934, xE(l), 4114, '#000', 3, '3 5');
});
logLambda.forEach(function (l, i) {
  add(gE, 'ellipse', 'cv-error-point', {cx: xE(l), cy: yE(cvMean[i]), rx: 7.5, ry: 6.5, fill: '#ee1122'});
});

/* ---------- Panel F ---------- */
const yF = function (u) { return 2917 + u * 56.5; };
const leftX0 = 1627, leftX1 = 1786, rightX0 = 2930, rightX1 = 3090;
const geneCount = geneNames.map(function (g) {
  return methodGenes.filter(function (m) { return m.indexOf(g) >= 0; }).length;
});
const geneStart = [];
geneCount.reduce(function (acc, c, i) { geneStart[i] = acc; return acc + c; }, 0);
const methodStart = [];
methodGenes.reduce(function (acc, m, i) { methodStart[i] = acc; return acc + m.length; }, 0);
const geneUsed = geneNames.map(function () { return 0; });
methodGenes.forEach(function (members, mi) {
  members.forEach(function (g, k) {
    const gi = geneNames.indexOf(g);
    const l = geneStart[gi] + geneUsed[gi];
    geneUsed[gi] += 1;
    const r = methodStart[mi] + k;
    const c1 = leftX1 + (rightX0 - leftX1) * 0.33;
    const c2 = leftX1 + (rightX0 - leftX1) * 0.67;
    const d = 'M' + leftX1 + ' ' + yF(l) + ' C' + c1 + ' ' + yF(l) + ' ' + c2 + ' ' + yF(r) + ' ' + rightX0 + ' ' + yF(r) +
      ' L' + rightX0 + ' ' + yF(r + 1) + ' C' + c2 + ' ' + yF(r + 1) + ' ' + c1 + ' ' + yF(l + 1) + ' ' + leftX1 + ' ' + yF(l + 1) + ' Z';
    add(gF, 'path', 'flow-' + g.toLowerCase() + '-' + methodNames[mi].toLowerCase(), {d: d, fill: flowColors[gi], 'fill-opacity': 0.55});
  });
});
geneNames.forEach(function (g, i) {
  add(gF, 'rect', 'gene-node-' + g.toLowerCase(), {x: leftX0, y: yF(geneStart[i]), width: leftX1 - leftX0, height: geneCount[i] * 56.5, fill: geneColors[i]});
});
methodNames.forEach(function (m, i) {
  add(gF, 'rect', 'method-node-' + m.toLowerCase(), {x: rightX0, y: yF(methodStart[i]), width: rightX1 - rightX0, height: methodGenes[i].length * 56.5, fill: methodColors[i]});
});
geneNames.forEach(function (g, i) {
  label(gF, 'gene-label-' + g.toLowerCase(), g, (leftX0 + leftX1) / 2, yF(geneStart[i] + geneCount[i] / 2) + 4, 39, false, 0.8, true);
});
methodNames.forEach(function (m, i) {
  label(gF, 'method-label-' + m.toLowerCase(), m, (rightX0 + rightX1) / 2, yF(methodStart[i] + methodGenes[i].length / 2) + 5, 39, false, 0.8, true);
});
</script>
</body>
</html>
